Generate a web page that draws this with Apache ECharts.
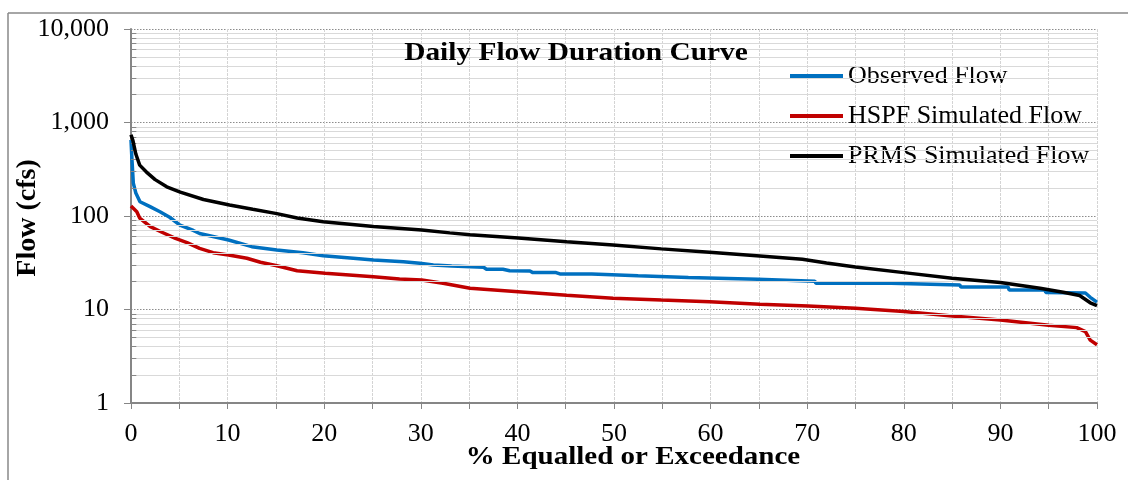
<!DOCTYPE html>
<html>
<head>
<meta charset="utf-8">
<script src="https://cdn.jsdelivr.net/npm/echarts@6/dist/echarts.min.js"></script>
<style>
html,body{margin:0;padding:0;background:#fff;}
#chart{width:1128px;height:480px;}
</style>
</head>
<body>
<div id="chart"></div>
<script>
// ---- Data (x = % equalled or exceeded, y = flow in cfs) ----
const obsX  = [0, 0.1, 0.24, 0.5, 0.93, 1.97, 3.0, 4.0, 5.07, 6.45, 7.1, 10.1, 12.5, 15.1, 17.8, 19.9, 23.0, 25.1, 28.2, 29.9, 31.3, 33.2, 36.5, 36.8, 38.5, 39.2, 41.3, 41.6, 44.0, 44.4, 47.7, 47.8, 52.5, 52.6, 57.7, 57.8, 64.9, 65.0, 70.8, 70.9, 78.7, 78.8, 85.8, 85.9, 90.8, 90.9, 94.6, 94.7, 98.8, 99.3, 100];
const obsY  = [650, 400, 225, 176, 142, 126, 111, 97, 80, 70, 65, 55.4, 47, 43.3, 40.5, 37.6, 35.3, 33.8, 32.5, 31.2, 29.9, 29.2, 28.3, 27.0, 26.9, 26.0, 25.8, 24.8, 24.8, 24.0, 24.0, 22.9, 22.9, 22.0, 22.0, 21.0, 21.0, 20.1, 20.1, 19.1, 19.1, 18.3, 18.3, 17.4, 17.4, 16.2, 16.2, 15.2, 15.0, 13.5, 12.0];

const hspfX = [0, 0.6, 0.9, 2.0, 3.2, 4.6, 5.8, 7.1, 8.5, 10.1, 12.0, 13.4, 15.1, 17.2, 20.1, 25.1, 27.8, 30.1, 32.3, 35.1, 40.1, 45.1, 49.9, 54.9, 59.9, 65.1, 70.1, 75.0, 80.0, 85.0, 90.0, 95.0, 97.9, 98.8, 99.3, 100];
const hspfY = [128, 111, 95, 77, 67, 57.7, 52, 45, 40.5, 38.3, 35.3, 32, 29.4, 26, 24.4, 22.4, 21.2, 20.7, 19.1, 16.9, 15.5, 14.2, 13.2, 12.6, 12.1, 11.4, 10.9, 10.3, 9.5, 8.5, 7.7, 6.8, 6.4, 5.8, 4.7, 4.2];

const prmsX = [0, 0.2, 0.5, 0.9, 1.6, 2.5, 3.7, 5.1, 7.5, 10.2, 12.6, 15.1, 17.2, 19.9, 25.1, 30.1, 33.0, 35.1, 40.1, 45.1, 49.9, 54.9, 59.9, 65.1, 69.5, 72.0, 75.0, 80.0, 85.0, 90.0, 94.1, 96.5, 98.2, 99.3, 100];
const prmsY = [740, 640, 460, 350, 295, 245, 205, 180, 150, 131, 118, 106, 95, 87, 77, 71, 66, 63, 58, 53, 49, 44.5, 41, 37.3, 34.5, 31.5, 28.5, 24.8, 21.6, 19.4, 16.9, 15.3, 14.1, 11.8, 11.0];

const seriesNames = ['Observed Flow', 'HSPF Simulated Flow', 'PRMS Simulated Flow'];
const seriesColors = ['#0070C0', '#C00000', '#000000'];
const xTickValues = [0, 10, 20, 30, 40, 50, 60, 70, 80, 90, 100];
const yTickValues = [1, 10, 100, 1000, 10000];

const titleText = 'Daily Flow Duration Curve';
const xAxisTitle = '% Equalled or Exceedance';
const yAxisTitle = 'Flow (cfs)';

// ---- helpers ----
function pairs(xs, ys) { return xs.map((x, i) => [x, ys[i]]); }
const minorValues = [];
for (let d = 0; d < yTickValues.length - 1; d++) {
  for (let k = 2; k <= 9; k++) minorValues.push(k * yTickValues[d]);
}
const serif = '"Liberation Serif", "Times New Roman", serif';
const axisGray = '#868686';

const chart = echarts.init(document.getElementById('chart'), null, {renderer: 'canvas'});
chart.setOption({
  animation: false,
  backgroundColor: '#ffffff',
  grid: {left: 131, right: 31, top: 29, bottom: 77, containLabel: false},
  legend: {
    orient: 'vertical',
    left: 790,
    top: 63,
    padding: 0,
    icon: 'rect',
    itemWidth: 53,
    itemHeight: 4,
    itemGap: 14,
    data: seriesNames,
    textStyle: {fontFamily: serif, fontSize: 26, color: '#000'},
    selectedMode: false
  },
  xAxis: {
    type: 'value',
    min: 0, max: 100, interval: 5,
    axisLine: {show: true, onZero: false, lineStyle: {color: axisGray, width: 2}},
    axisTick: {show: true, length: 6, lineStyle: {color: axisGray, width: 1}},
    axisLabel: {
      margin: 18,
      fontFamily: serif, fontSize: 26, color: '#000',
      formatter: v => (xTickValues.indexOf(v) >= 0 ? String(v) : '')
    },
    splitLine: {show: true, lineStyle: {color: '#d4d4d4', width: 1, type: [3, 1]}}
  },
  yAxis: {
    type: 'log', logBase: 10,
    min: 1, max: 10000,
    axisLine: {show: true, lineStyle: {color: axisGray, width: 2}},
    axisTick: {show: true, length: 7, lineStyle: {color: axisGray, width: 1}},
    axisLabel: {
      margin: 22,
      fontFamily: serif, fontSize: 26, color: '#000',
      formatter: v => Math.round(v).toLocaleString('en-US')
    },
    splitLine: {show: true, lineStyle: {color: '#8c8c8c', width: 1, type: [1.5, 1.5]}}
  },
  series: [
    {
      name: 'minor-grid', type: 'line', data: [], silent: true, z: 1,
      markLine: {
        silent: true, symbol: 'none', label: {show: false}, animation: false,
        lineStyle: {color: '#d9d9d9', width: 1, type: 'solid'},
        data: minorValues.map(v => ({yAxis: v}))
      }
    },
    {
      name: 'minor-ticks', type: 'line', data: [], silent: true, z: 3,
      markLine: {
        silent: true, symbol: 'none', label: {show: false}, animation: false,
        lineStyle: {color: axisGray, width: 1, type: 'solid'},
        data: minorValues.map(v => [{coord: [0, v]}, {coord: [0.55, v]}])
      }
    },
    {
      name: seriesNames[0], type: 'line', data: pairs(obsX, obsY),
      symbol: 'none', smooth: false, z: 4,
      lineStyle: {color: seriesColors[0], width: 3.5}, itemStyle: {color: seriesColors[0]}
    },
    {
      name: seriesNames[1], type: 'line', data: pairs(hspfX, hspfY),
      symbol: 'none', smooth: false, z: 4,
      lineStyle: {color: seriesColors[1], width: 3.5}, itemStyle: {color: seriesColors[1]}
    },
    {
      name: seriesNames[2], type: 'line', data: pairs(prmsX, prmsY),
      symbol: 'none', smooth: false, z: 5,
      lineStyle: {color: seriesColors[2], width: 3.5}, itemStyle: {color: seriesColors[2]}
    }
  ],
  graphic: [
    {type: 'line', shape: {x1: 8, y1: 13, x2: 1128, y2: 13}, style: {stroke: '#888', lineWidth: 1.5}, silent: true},
    {type: 'line', shape: {x1: 8, y1: 13, x2: 8, y2: 480}, style: {stroke: '#888', lineWidth: 1.5}, silent: true},
    {type: 'text', x: 576, y: 53, scaleX: 1.13, style: {text: titleText, font: 'bold 26px ' + serif, fill: '#000', textAlign: 'center', textVerticalAlign: 'middle'}, z: 10},
    {type: 'text', x: 633, y: 458, scaleX: 1.16, style: {text: xAxisTitle, font: 'bold 25px ' + serif, fill: '#000', textAlign: 'center', textVerticalAlign: 'middle'}, z: 10},
    {type: 'text', x: 28, y: 218, rotation: Math.PI / 2, style: {text: yAxisTitle, font: 'bold 28px ' + serif, fill: '#000', textAlign: 'center', textVerticalAlign: 'middle'}, z: 10}
  ]
});
</script>
</body>
</html>
